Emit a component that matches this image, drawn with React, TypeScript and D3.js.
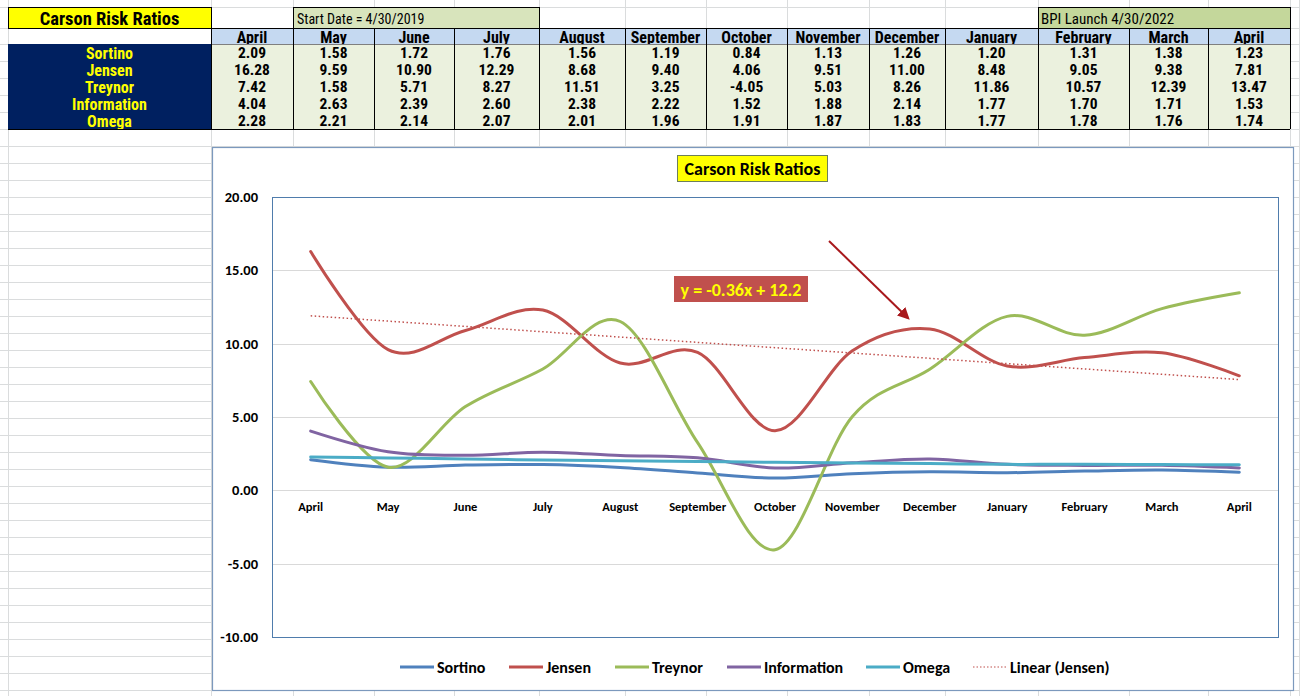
import React from "react";
import * as d3 from "d3";

const months = ["April", "May", "June", "July", "August", "September", "October", "November", "December", "January", "February", "March", "April"];
const seriesNames = ["Sortino", "Jensen", "Treynor", "Information", "Omega"];
const sortino = [2.09, 1.58, 1.72, 1.76, 1.56, 1.19, 0.84, 1.13, 1.26, 1.2, 1.31, 1.38, 1.23];
const jensen = [16.28, 9.59, 10.9, 12.29, 8.68, 9.4, 4.06, 9.51, 11.0, 8.48, 9.05, 9.38, 7.81];
const treynor = [7.42, 1.58, 5.71, 8.27, 11.51, 3.25, -4.05, 5.03, 8.26, 11.86, 10.57, 12.39, 13.47];
const information = [4.04, 2.63, 2.39, 2.6, 2.38, 2.22, 1.52, 1.88, 2.14, 1.77, 1.7, 1.71, 1.53];
const omega = [2.28, 2.21, 2.14, 2.07, 2.01, 1.96, 1.91, 1.87, 1.83, 1.77, 1.78, 1.76, 1.74];
const yTicks = [20, 15, 10, 5, 0, -5, -10];

const sheetTitle = "Carson Risk Ratios";
const startDateText = "Start Date = 4/30/2019";
const bpiText = "BPI Launch 4/30/2022";
const chartTitle = "Carson Risk Ratios";
const trendLabel = "y = -0.36x + 12.2";
const trendLegend = "Linear (Jensen)";

const seriesValues = [sortino, jensen, treynor, information, omega];
const seriesColors = ["#4f81bd", "#c0504d", "#9bbb59", "#8064a2", "#4bacc6"];

// sheet layout
const colEdges = [8, 211, 293, 374, 454, 539, 625, 706, 787, 869, 945, 1038, 1129, 1208, 1290];
const rowTop = 28;
const headerH = 16;
const rowH = 17;
const tableFont = "'Liberation Sans Narrow', 'Arial Narrow', 'Roboto Condensed', 'Liberation Sans', Arial, sans-serif";
const chartFont = "Carlito, Calibri, Lato, 'Open Sans', sans-serif";

export default function App() {
  const W = 1300;
  const H = 696;

  // grid lines
  const hLines: number[] = [7, 28, 44, 61, 78, 95, 112];
  for (let y = 129; y <= H; y += 17) hLines.push(y);
  const vLines = [...colEdges, 1299];

  // chart
  const chart = { x: 212, y: 147, w: 1081, h: 543 };
  const plot = { x0: 272, x1: 1278, y0: 197, y1: 637 };
  const idx = months.map((_, i) => i);
  const x = d3.scalePoint<number>().domain(idx).range([plot.x0, plot.x1]).padding(0.5);
  const y = d3.scaleLinear().domain([-10, 20]).range([plot.y1, plot.y0]);

  const line = d3
    .line<number>()
    .x((_, i) => x(i) as number)
    .y((v) => y(v))
    .curve(d3.curveCardinal.tension(0));

  // linear trend of Jensen (x = 1..n)
  const xs = idx.map((i) => i + 1);
  const mx = d3.mean(xs) as number;
  const my = d3.mean(jensen) as number;
  const sxy = d3.sum(xs, (xi, k) => (xi - mx) * (jensen[k] - my));
  const sxx = d3.sum(xs, (xi) => (xi - mx) * (xi - mx));
  const slope = sxy / sxx;
  const intercept = my - slope * mx;
  const tFirst = intercept + slope * xs[0];
  const tLast = intercept + slope * xs[xs.length - 1];

  const legendItems = [
    { name: seriesNames[0], color: seriesColors[0], lx: 400, dotted: false },
    { name: seriesNames[1], color: seriesColors[1], lx: 509, dotted: false },
    { name: seriesNames[2], color: seriesColors[2], lx: 615, dotted: false },
    { name: seriesNames[3], color: seriesColors[3], lx: 727, dotted: false },
    { name: seriesNames[4], color: seriesColors[4], lx: 866, dotted: false },
    { name: trendLegend, color: "#c0504d", lx: 973, dotted: true },
  ];

  const dataTop = rowTop + headerH;

  return (
    <svg
      width={W}
      height={H}
      viewBox={`0 0 ${W} ${H}`}
      style={{ position: "absolute", left: 0, top: 0, background: "#ffffff" }}
    >
      <defs>
        <marker id="arrowHead" viewBox="0 0 10 10" refX="8" refY="5" markerWidth="6" markerHeight="6" orient="auto">
          <path d="M0,0 L10,5 L0,10 z" fill="#a8181c" />
        </marker>
      </defs>
      <rect x={0} y={0} width={W} height={H} fill="#ffffff" />
      {/* spreadsheet gridlines */}
      {hLines.map((yy, i) => (
        <line key={"h" + i} x1={0} x2={W} y1={yy + 0.5} y2={yy + 0.5} stroke="#dadcdd" strokeWidth={1} />
      ))}
      {vLines.map((xx, i) => (
        <line key={"v" + i} x1={xx + 0.5} x2={xx + 0.5} y1={0} y2={H} stroke="#dadcdd" strokeWidth={1} />
      ))}

      {/* sheet title */}
      <rect x={colEdges[0] + 0.5} y={7.5} width={colEdges[1] - colEdges[0]} height={21} fill="#ffff00" stroke="#000" strokeWidth={1} />
      <text
        x={(colEdges[0] + colEdges[1]) / 2}
        y={18.5}
        textAnchor="middle"
        dominantBaseline="central"
        fontFamily={tableFont}
        fontWeight="bold"
        fontSize={18.5}
        fill="#000"
      >
        {sheetTitle}
      </text>

      {/* start date box */}
      <rect x={colEdges[2] + 0.5} y={7.5} width={colEdges[5] - colEdges[2]} height={21} fill="#d8e4bc" stroke="#000" strokeWidth={1} />
      <text x={colEdges[2] + 4} y={18.5} dominantBaseline="central" fontFamily={tableFont} fontSize={14} fill="#000">
        {startDateText}
      </text>

      {/* BPI launch box */}
      <rect x={colEdges[11] + 0.5} y={7.5} width={colEdges[14] - colEdges[11]} height={21} fill="#c4d79b" stroke="#000" strokeWidth={1} />
      <text x={colEdges[11] + 3} y={18.5} dominantBaseline="central" fontFamily={tableFont} fontSize={15} fill="#000">
        {bpiText}
      </text>

      {/* header row */}
      {months.map((m, i) => (
        <g key={"mh" + i}>
          <rect x={colEdges[i + 1]} y={rowTop} width={colEdges[i + 2] - colEdges[i + 1]} height={headerH} fill="#c5d9f1" />
          <text
            x={(colEdges[i + 1] + colEdges[i + 2]) / 2}
            y={rowTop + headerH / 2 + 1}
            textAnchor="middle"
            dominantBaseline="central"
            fontFamily={tableFont}
            fontWeight="bold"
            fontSize={16}
            fill="#000"
          >
            {m}
          </text>
        </g>
      ))}
      {/* label column */}
      <rect x={colEdges[0]} y={dataTop} width={colEdges[1] - colEdges[0]} height={rowH * seriesNames.length} fill="#002060" />
      {seriesNames.map((s, r) => (
        <text
          key={"rl" + r}
          x={(colEdges[0] + colEdges[1]) / 2}
          y={dataTop + r * rowH + rowH / 2 + 0.5}
          textAnchor="middle"
          dominantBaseline="central"
          fontFamily={tableFont}
          fontWeight="bold"
          fontSize={16}
          fill="#ffff00"
        >
          {s}
        </text>
      ))}
      {/* data cells */}
      <rect x={colEdges[1]} y={dataTop} width={colEdges[14] - colEdges[1]} height={rowH * seriesNames.length} fill="#ebf1de" />
      {seriesValues.map((vals, r) =>
        vals.map((v, c) => (
          <text
            key={"dv" + r + "-" + c}
            x={(colEdges[c + 1] + colEdges[c + 2]) / 2}
            y={dataTop + r * rowH + rowH / 2 + 0.5}
            textAnchor="middle"
            dominantBaseline="central"
            fontFamily={tableFont}
            fontWeight="bold"
            fontSize={15.5}
            fill="#000"
          >
            {v.toFixed(2)}
          </text>
        ))
      )}
      {/* table borders */}
      <line x1={colEdges[1]} x2={colEdges[14]} y1={rowTop + 0.5} y2={rowTop + 0.5} stroke="#000" />
      <line x1={colEdges[1]} x2={colEdges[14]} y1={dataTop + 0.5} y2={dataTop + 0.5} stroke="#7f7f7f" />
      <line x1={colEdges[0]} x2={colEdges[14]} y1={dataTop + rowH * 5 + 0.5} y2={dataTop + rowH * 5 + 0.5} stroke="#000" />
      {colEdges.slice(1).map((xx, i) => (
        <line key={"tb" + i} x1={xx + 0.5} x2={xx + 0.5} y1={rowTop} y2={dataTop + rowH * 5} stroke="#000" />
      ))}

      {/* chart area */}
      <rect x={chart.x + 0.5} y={chart.y + 0.5} width={chart.w} height={chart.h} fill="#ffffff" stroke="#7c99bd" strokeWidth={1.2} />
      {/* chart title */}
      <rect x={677.5} y={155.5} width={150} height={26} fill="#ffff00" stroke="#6d7f5a" strokeWidth={1} />
      <text x={752.5} y={169} textAnchor="middle" dominantBaseline="central" fontFamily={chartFont} fontWeight="bold" fontSize={18} fill="#000">
        {chartTitle}
      </text>

      {/* gridlines */}
      {yTicks.map((t) => (
        <line key={"g" + t} x1={plot.x0} x2={plot.x1} y1={Math.round(y(t)) + 0.5} y2={Math.round(y(t)) + 0.5} stroke="#d9d9d9" strokeWidth={1} />
      ))}
      <rect
        x={plot.x0 + 0.5}
        y={plot.y0 + 0.5}
        width={plot.x1 - plot.x0}
        height={plot.y1 - plot.y0}
        fill="none"
        stroke="#4f7cac"
        strokeWidth={1}
      />
      {/* y labels */}
      {yTicks.map((t) => (
        <text
          key={"yl" + t}
          x={258}
          y={y(t)}
          textAnchor="end"
          dominantBaseline="central"
          fontFamily={chartFont}
          fontWeight="bold"
          fontSize={14.5}
          fill="#000"
        >
          {t.toFixed(2)}
        </text>
      ))}
      {/* x labels */}
      {months.map((m, i) => (
        <text
          key={"xl" + i}
          x={x(i) as number}
          y={y(0) + 16}
          textAnchor="middle"
          dominantBaseline="central"
          fontFamily={chartFont}
          fontWeight="bold"
          fontSize={12.5}
          fill="#000"
        >
          {m}
        </text>
      ))}

      {/* series */}
      {seriesValues.map((vals, s) => (
        <path
          key={"s" + s}
          d={line(vals) || ""}
          fill="none"
          stroke={seriesColors[s]}
          strokeWidth={3}
          strokeLinecap="round"
          strokeLinejoin="round"
        />
      ))}
      {/* trendline */}
      <line
        x1={x(0) as number}
        y1={y(tFirst)}
        x2={x(months.length - 1) as number}
        y2={y(tLast)}
        stroke="#c0504d"
        strokeWidth={1.5}
        strokeDasharray="1.5 2.5"
      />

      {/* trend label */}
      <rect x={674} y={276} width={134} height={26} fill="#c0504d" />
      <text x={741} y={289.5} textAnchor="middle" dominantBaseline="central" fontFamily={chartFont} fontWeight="bold" fontSize={18} fill="#ffff00">
        {trendLabel}
      </text>
      {/* arrow */}
      <line x1={829} y1={241} x2={908} y2={318} stroke="#a8181c" strokeWidth={2} markerEnd="url(#arrowHead)" />

      {/* legend */}
      {legendItems.map((it, i) => (
        <g key={"lg" + i}>
          <line
            x1={it.lx}
            x2={it.lx + 34}
            y1={667}
            y2={667}
            stroke={it.color}
            strokeWidth={it.dotted ? 1.2 : 3}
            strokeDasharray={it.dotted ? "1.5 2" : undefined}
          />
          <text
            x={it.lx + 37}
            y={667}
            dominantBaseline="central"
            fontFamily={chartFont}
            fontWeight="bold"
            fontSize={16}
            fill="#000"
          >
            {it.name}
          </text>
        </g>
      ))}
    </svg>
  );
}
